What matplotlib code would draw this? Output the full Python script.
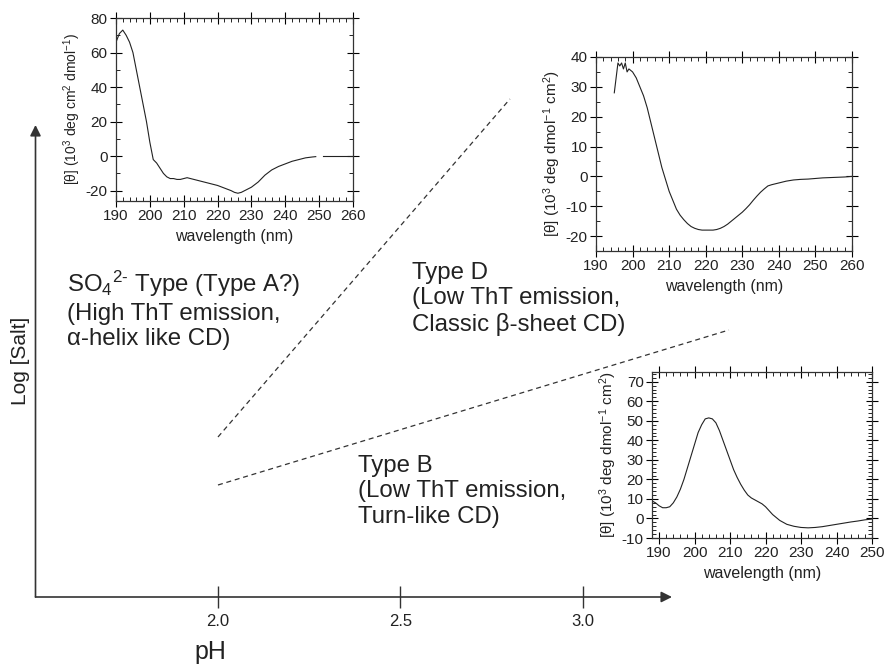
import matplotlib
matplotlib.use("Agg")
import matplotlib.pyplot as plt
from matplotlib.ticker import MultipleLocator

plt.rcParams['font.family'] = ['Liberation Sans', 'DejaVu Sans']
plt.rcParams['mathtext.fontset'] = 'custom'
plt.rcParams['mathtext.rm'] = 'Liberation Sans'
plt.rcParams['mathtext.it'] = 'Liberation Sans:italic'
plt.rcParams['mathtext.bf'] = 'Liberation Sans:bold'
plt.rcParams['axes.unicode_minus'] = False

INK = '#222222'

# main phase diagram
ph_ticks = [2.0, 2.5, 3.0]
ph_tick_labels = ['2.0', '2.5', '3.0']
boundary_ad_ph = [2.0, 2.80]
boundary_ad_salt = [1.60, 4.98]
boundary_bd_ph = [2.0, 3.40]
boundary_bd_salt = [1.12, 2.67]

region_labels = [
    r'SO$_4$$^{2\text{-}}$ Type (Type A?)' + '\n(High ThT emission,\n\u03b1-helix like CD)',
    'Type D\n(Low ThT emission,\nClassic \u03b2-sheet CD)',
    'Type B\n(Low ThT emission,\nTurn-like CD)',
]
region_ph = [1.586, 2.531, 2.384]
region_salt = [3.28, 3.35, 1.42]

# CD spectrum, SO4 type (two pieces, gap near 250 nm)
cd_a_wl = [190, 191, 192, 193, 194, 195, 196, 197, 198, 199, 200, 201, 202, 203, 204,
           205, 206, 207, 208, 209, 210, 211, 212, 214, 216, 218, 220, 222, 224, 225,
           226, 227, 228, 230, 232, 234, 236, 238, 240, 242, 244, 246, 248, 249]
cd_a_val = [66, 71, 73, 70, 66, 60, 50, 40, 30, 20, 8, -2, -4, -7, -10,
            -12, -13, -13, -13.5, -13.5, -13, -12.5, -13, -14, -15, -16, -17, -18.5, -20, -21,
            -21.5, -21, -20, -18, -15, -11, -8, -6, -4.5, -3, -2, -1, -0.5, -0.3]
cd_a_tail_wl = [251, 260]
cd_a_tail_val = [0, 0]

# CD spectrum, type D
cd_d_wl = [195, 195.5, 196, 196.5, 197, 197.5, 198, 198.5, 199, 200, 201, 202, 203, 204,
           205, 206, 207, 208, 209, 210, 211, 212, 213, 214, 215, 216, 217, 218, 219, 220,
           221, 222, 223, 224, 225, 226, 227, 228, 229, 230, 231, 232, 233, 234, 235, 236,
           237, 238, 240, 242, 244, 246, 248, 250, 252, 254, 256, 258, 260]
cd_d_val = [28, 33, 38, 37, 38, 36, 38, 35, 36, 35, 33, 30, 27, 23,
            18, 13, 8, 3, -1, -5, -8, -11, -13, -14.5, -15.8, -16.8, -17.4, -17.8, -18, -18,
            -18, -18, -17.8, -17.4, -16.8, -16, -15, -14, -13, -12, -10.8, -9.5, -8, -6.6, -5.3, -4.2,
            -3.2, -2.8, -2.2, -1.6, -1.2, -1.0, -0.9, -0.7, -0.5, -0.4, -0.3, -0.2, 0]

# CD spectrum, type B
cd_b_wl = [188, 189, 190, 191, 192, 193, 194, 195, 196, 197, 198, 199, 200, 201, 202, 203,
           204, 205, 206, 207, 208, 209, 210, 211, 212, 213, 214, 215, 216, 217, 218, 219,
           220, 221, 222, 224, 226, 228, 230, 232, 234, 236, 238, 240, 242, 244, 246, 248, 250]
cd_b_val = [9, 8, 6.5, 5.5, 5.5, 6, 8, 11, 15, 20, 26, 32, 38, 44, 48, 51,
            51.5, 51, 49, 45, 40, 35, 30, 25, 21, 17.5, 14.5, 12, 10.5, 9.5, 8.5, 7.5,
            6, 4, 2, -1, -3, -4, -4.6, -4.8, -4.6, -4.2, -3.6, -3, -2.4, -1.8, -1.3, -0.7, -0.3]

fig = plt.figure(figsize=(8.84, 6.65), dpi=100)

ax = fig.add_axes([35.5 / 884, 68 / 665, 636.5 / 884, 472 / 665])
ax.set_xlim(1.5, 3.244)
ax.set_ylim(0, 4.72)
for s in ax.spines.values():
    s.set_visible(False)
ax.set_xticks(ph_ticks)
ax.set_xticklabels(ph_tick_labels)
ax.set_yticks([])
ax.tick_params(axis='x', direction='inout', length=16, width=1, color='#333333',
               labelsize=12, pad=4, labelcolor=INK)
ax.patch.set_alpha(0)

arrow = dict(arrowstyle='-|>', lw=1.2, color='#333333', mutation_scale=16, shrinkA=0, shrinkB=0)
ax.annotate('', xy=(1, 0), xytext=(0, 0), xycoords='axes fraction', arrowprops=arrow)
ax.annotate('', xy=(0, 1), xytext=(0, 0), xycoords='axes fraction', arrowprops=arrow)

ax.plot(boundary_ad_ph, boundary_ad_salt, ls=(0, (4, 3)), lw=0.9, color='#333333', clip_on=False)
ax.plot(boundary_bd_ph, boundary_bd_salt, ls=(0, (4, 3)), lw=0.9, color='#333333', clip_on=False)

for txt, x, y in zip(region_labels, region_ph, region_salt):
    ax.text(x, y, txt, fontsize=17.3, color=INK, ha='left', va='top', linespacing=1.2,
            clip_on=False)

ax.text(0.274, -0.116, 'pH', transform=ax.transAxes, fontsize=18, color=INK,
        ha='center', va='center')
ax.text(-0.023, 0.50, 'Log [Salt]', transform=ax.transAxes, fontsize=15, color=INK,
        ha='center', va='center', rotation=90)


def cd_inset(rect, xlim, ylim, ymajor, yminor, ylabel, ylsize):
    a = fig.add_axes(rect)
    a.set_xlim(*xlim)
    a.set_ylim(*ylim)
    a.xaxis.set_major_locator(MultipleLocator(10))
    a.xaxis.set_minor_locator(MultipleLocator(2))
    a.yaxis.set_major_locator(MultipleLocator(ymajor))
    a.yaxis.set_minor_locator(MultipleLocator(yminor))
    a.tick_params(which='major', direction='inout', length=8, width=0.8,
                  top=True, right=True, labelsize=11, pad=2, labelcolor=INK)
    a.tick_params(which='minor', direction='in', length=3, width=0.6, top=True, right=True)
    for s in a.spines.values():
        s.set_linewidth(0.9)
        s.set_color('#333333')
    a.set_xlabel('wavelength (nm)', fontsize=11.5, color=INK, labelpad=4)
    a.set_ylabel(ylabel, fontsize=ylsize, color=INK, labelpad=2)
    return a


ins_a = cd_inset([116 / 884, 464 / 665, 237 / 884, 183 / 665], (190, 260), (-26, 80), 20, 10,
                 '[\u03b8] (10$^3$ deg cm$^2$ dmol$^{-1}$)', 10)
ins_a.plot(cd_a_wl, cd_a_val, color=INK, lw=0.8)
ins_a.plot(cd_a_tail_wl, cd_a_tail_val, color=INK, lw=0.8)

ins_d = cd_inset([596 / 884, 414 / 665, 256 / 884, 194 / 665], (190, 260), (-25, 40), 10, 5,
                 '[\u03b8] (10$^3$ deg dmol$^{-1}$ cm$^2$)', 11)
ins_d.plot(cd_d_wl, cd_d_val, color=INK, lw=0.8)

ins_b = cd_inset([652 / 884, 127 / 665, 220 / 884, 166 / 665], (188, 250), (-10, 75), 10, 2,
                 '[\u03b8] (10$^3$ deg dmol$^{-1}$ cm$^2$)', 11)
ins_b.plot(cd_b_wl, cd_b_val, color=INK, lw=0.8)

fig.savefig('out.png', dpi=100, facecolor='white')
